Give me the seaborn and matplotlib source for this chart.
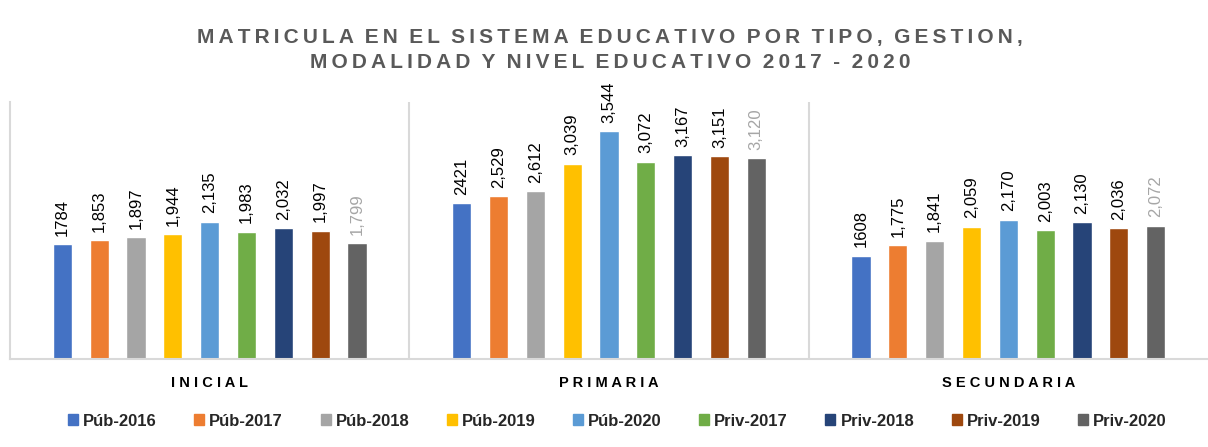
import pandas as pd
import numpy as np
import matplotlib.pyplot as plt
import seaborn as sns

# niveles educativos y series (gestion-año)
niveles = ['INICIAL', 'PRIMARIA', 'SECUNDARIA']
series = ['Púb-2016', 'Púb-2017', 'Púb-2018', 'Púb-2019', 'Púb-2020',
          'Priv-2017', 'Priv-2018', 'Priv-2019', 'Priv-2020']

pub_2016 = [1784, 2421, 1608]
pub_2017 = [1853, 2529, 1775]
pub_2018 = [1897, 2612, 1841]
pub_2019 = [1944, 3039, 2059]
pub_2020 = [2135, 3544, 2170]
priv_2017 = [1983, 3072, 2003]
priv_2018 = [2032, 3167, 2130]
priv_2019 = [1997, 3151, 2036]
priv_2020 = [1799, 3120, 2072]

colores = ['#4472C4', '#ED7D31', '#A5A5A5', '#FFC000', '#5B9BD5',
           '#70AD47', '#264478', '#9E480E', '#636363']

valores = [pub_2016, pub_2017, pub_2018, pub_2019, pub_2020,
           priv_2017, priv_2018, priv_2019, priv_2020]

titulo1 = 'MATRICULA EN EL SISTEMA EDUCATIVO POR TIPO, GESTION,'
titulo2 = 'MODALIDAD Y NIVEL EDUCATIVO 2017 - 2020'

rows = []
for s, vals in zip(series, valores):
    for n, v in zip(niveles, vals):
        rows.append({'Nivel': n, 'Serie': s, 'Matricula': v})
df = pd.DataFrame(rows)

sns.set_style('white')
plt.rcParams['font.family'] = ['Liberation Sans', 'DejaVu Sans']


def espaciar(txt, sep='\u2009'):
    # espaciado entre letras, estilo titulo de Excel
    return '  '.join(sep.join(w) for w in txt.split(' '))


fig = plt.figure(figsize=(12.08, 4.47), dpi=100)
ax = fig.add_axes([10 / 1208, 0.197, 1.0 - 10 / 1208, 0.575])

sns.barplot(data=df, x='Nivel', y='Matricula', hue='Serie', order=niveles,
            hue_order=series, palette=colores, width=0.83, gap=0.48,
            saturation=1, ax=ax, legend=True)

ax.set_ylim(0, 4000)
ax.set_xlim(-0.5, 2.5)

# etiquetas de valor
for i, cont in enumerate(ax.containers):
    if i == 0:
        labs = [f'{v}' for v in valores[i]]
    else:
        labs = [f'{v:,}' for v in valores[i]]
    col = '#A6A6A6' if i == len(series) - 1 else '#000000'
    ax.bar_label(cont, labels=labs, rotation=90, padding=6, fontsize=12,
                 color=col)

# separadores entre grupos
for xv in [0.5, 1.5]:
    ax.axvline(xv, color='#D9D9D9', lw=1.5)

for sp in ['top', 'right']:
    ax.spines[sp].set_visible(False)
ax.spines['left'].set_color('#D9D9D9')
ax.spines['left'].set_linewidth(1.5)
ax.spines['bottom'].set_color('#D9D9D9')
ax.spines['bottom'].set_linewidth(1.5)

ax.set_yticks([])
ax.set_xlabel('')
ax.set_ylabel('')
ax.set_xticks(range(3))
ax.set_xticklabels([' '.join(n) for n in niveles], fontsize=10.5,
                   fontweight='bold', color='#000000')
ax.tick_params(axis='x', length=0, pad=12)

fig.text(0.505, 0.917, espaciar(titulo1), ha='center', va='center',
         fontsize=15, fontweight='bold', color='#595959')
fig.text(0.505, 0.861, espaciar(titulo2), ha='center', va='center',
         fontsize=15, fontweight='bold', color='#595959')

ax.legend_.remove()
handles = [plt.Rectangle((0, 0), 1, 1, color=c) for c in colores]
fig.legend(handles, series, loc='center', bbox_to_anchor=(0.511, 0.058),
           ncol=9, frameon=False, handlelength=0.6,
           handleheight=0.6, handletextpad=0.3, columnspacing=2.25,
           prop={'weight': 'bold', 'size': 12})

fig.savefig('out.png', dpi=100)
